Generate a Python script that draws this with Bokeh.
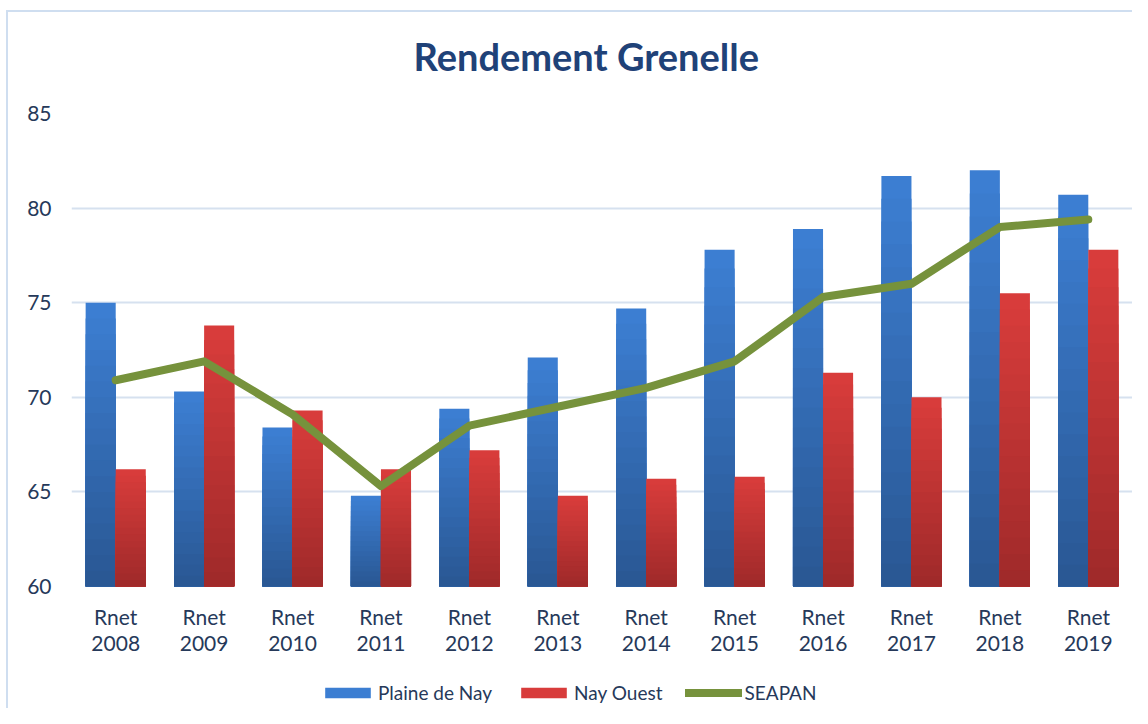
import numpy as np
from bokeh.plotting import figure
from bokeh.layouts import column
from bokeh.models import FactorRange, Range1d, FixedTicker, Legend, LegendItem, ColumnDataSource
from bokeh.transform import dodge
from bokeh.embed import file_html
from bokeh.resources import INLINE

categories = ["Rnet\n2008", "Rnet\n2009", "Rnet\n2010", "Rnet\n2011", "Rnet\n2012", "Rnet\n2013",
              "Rnet\n2014", "Rnet\n2015", "Rnet\n2016", "Rnet\n2017", "Rnet\n2018", "Rnet\n2019"]
plaine_de_nay = [75.0, 70.3, 68.4, 64.8, 69.4, 72.1, 74.7, 77.8, 78.9, 81.7, 82.0, 80.7]
nay_ouest = [66.2, 73.8, 69.3, 66.2, 67.2, 64.8, 65.7, 65.8, 71.3, 70.0, 75.5, 77.8]
seapan = [70.9, 71.9, 69.1, 65.3, 68.5, 69.5, 70.5, 71.9, 75.3, 76.0, 79.0, 79.4]
y_ticks = [60, 65, 70, 75, 80, 85]
series_names = ["Plaine de Nay", "Nay Ouest", "SEAPAN"]
title_text = "Rendement Grenelle"

FONT = "Lato"
TXT = "#26395a"
BLUE_TOP, BLUE_BOT = "#3c7ed2", "#2a5894"
RED_TOP, RED_BOT = "#d83c3b", "#a02a2a"
GREEN = "#76923c"
Y0, Y1 = 60, 85
W = 1124


def strip(height, **kw):
    f = figure(width=W, height=height, x_range=Range1d(0, 1), y_range=Range1d(0, 1),
               x_axis_type=None, y_axis_type=None, output_backend="svg",
               toolbar_location=None, **kw)
    f.outline_line_color = None
    f.grid.visible = False
    return f


# title strip
ts = strip(86, min_border_top=66, min_border_left=0, min_border_right=0, min_border_bottom=0)
ts.title.text = title_text
ts.title.text_font = FONT
ts.title.text_font_size = "38px"
ts.title.text_font_style = "bold"
ts.title.text_color = "#1f4278"
ts.title.align = "left"
ts.title.offset = 342
ts.title.standoff = 0

# main chart
p = figure(width=W, height=580, x_range=FactorRange(*categories, range_padding=0),
           y_range=Range1d(Y0, Y1), output_backend="svg", toolbar_location=None,
           min_border_left=63, min_border_right=0, min_border_top=15, min_border_bottom=92)
p.outline_line_color = None
p.border_fill_color = "white"


def hex2rgb(h):
    return np.array([int(h[i:i + 2], 16) for i in (1, 3, 5)], dtype=float)


def rgb2hex(c):
    return "#%02x%02x%02x" % tuple(int(round(v)) for v in c)


def gradient_bars(vals, offset, top_col, bot_col, n=18):
    vals = np.asarray(vals, dtype=float)
    c0, c1 = hex2rgb(top_col), hex2rgb(bot_col)
    for k in range(n):
        frac = 1 - k / n
        t = k / (n - 1)
        src = ColumnDataSource(dict(cat=categories, top=Y0 + (vals - Y0) * frac))
        p.vbar(x=dodge("cat", offset, range=p.x_range), top="top", bottom=Y0, width=0.34,
               source=src, fill_color=rgb2hex(c0 * (1 - t) + c1 * t), line_color=None)


gradient_bars(plaine_de_nay, -0.17, BLUE_TOP, BLUE_BOT)
gradient_bars(nay_ouest, 0.17, RED_TOP, RED_BOT)

p.line(x=categories, y=seapan, line_color=GREEN, line_width=8,
       line_join="round", line_cap="round")

p.xgrid.grid_line_color = None
p.ygrid.ticker = FixedTicker(ticks=y_ticks)
p.ygrid.grid_line_color = "#d6e1ef"
p.ygrid.grid_line_width = 2

p.yaxis.ticker = FixedTicker(ticks=y_ticks)
for ax in (p.xaxis, p.yaxis):
    ax.axis_line_color = None
    ax.major_tick_line_color = None
    ax.minor_tick_line_color = None
    ax.major_label_text_font = FONT
    ax.major_label_text_font_size = "21px"
    ax.major_label_text_color = TXT
p.yaxis.major_label_standoff = 14
p.xaxis.major_label_standoff = 11
p.xaxis.major_label_text_line_height = 1.05

# legend strip (its frame is aligned with the main frame by the column layout)
lg = strip(30, min_border=0)
# zero-size swatch renderers used only to style the legend entries
lb = lg.vbar(x=[0.5], top=[0], bottom=[0], width=0, fill_color=BLUE_TOP, line_color=None)
lr = lg.vbar(x=[0.5], top=[0], bottom=[0], width=0, fill_color=RED_TOP, line_color=None)
ll = lg.line(x=[-2, -1], y=[-2, -2], line_color=GREEN, line_width=8, line_cap="round")
legend = Legend(items=[LegendItem(label=series_names[0], renderers=[lb]),
                       LegendItem(label=series_names[1], renderers=[lr]),
                       LegendItem(label=series_names[2], renderers=[ll])],
                orientation="horizontal", location=(248, 4),
                glyph_width=57, glyph_height=13, label_standoff=2, spacing=23,
                padding=0, margin=0, border_line_color=None, background_fill_alpha=0,
                label_text_font=FONT, label_text_font_size="19px", label_text_color=TXT)
lg.add_layout(legend, "center")

layout = column(ts, p, lg, spacing=0)
layout.styles = {"margin-left": "6px", "margin-top": "10px",
                 "border-top": "2px solid #cfdef0", "border-left": "2px solid #cfdef0"}

open("out.html", "w").write(file_html(layout, INLINE))
